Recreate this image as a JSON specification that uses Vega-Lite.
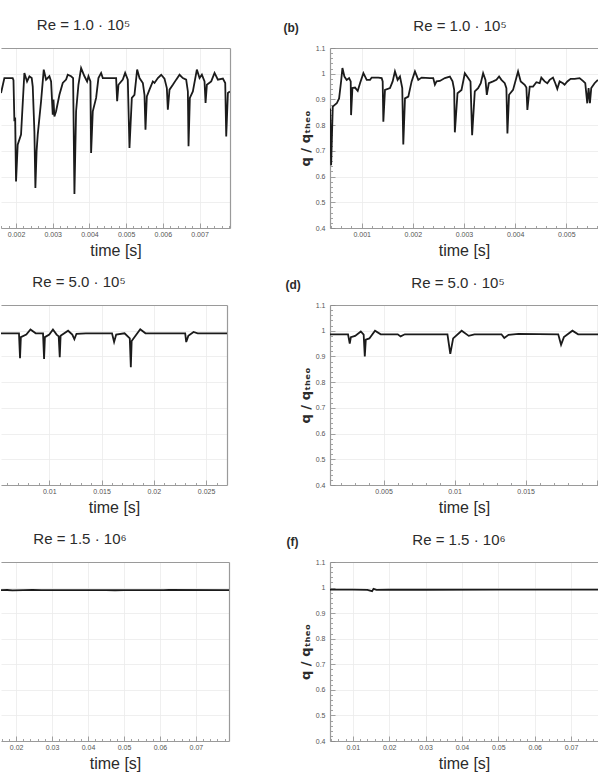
{
  "$schema": "https://vega.github.io/schema/vega-lite/v6.json",
  "padding": {"left": 0, "right": 0, "top": 18, "bottom": 0},
  "bounds": "flush",
  "columns": 2,
  "spacing": {"row": 77, "column": 100},
  "datasets": {
    "a": [
      {"t":0.001591,"q":0.925},{"t":0.001682,"q":0.983},{"t":0.001773,"q":0.983},{"t":0.001909,"q":0.983},{"t":0.00193,"q":0.975},{"t":0.001955,"q":0.815},{"t":0.001975,"q":0.83},{"t":0.002,"q":0.581},{"t":0.002045,"q":0.724},{"t":0.002136,"q":0.763},{"t":0.002227,"q":1.003},{"t":0.0023,"q":0.97},{"t":0.002364,"q":0.99},{"t":0.002427,"q":0.983},{"t":0.002455,"q":0.95},{"t":0.0025,"q":0.776},{"t":0.002527,"q":0.556},{"t":0.00256,"q":0.7},{"t":0.002591,"q":0.763},{"t":0.002682,"q":0.893},{"t":0.002755,"q":1.016},{"t":0.002818,"q":0.977},{"t":0.002909,"q":0.99},{"t":0.002955,"q":0.97},{"t":0.003,"q":0.841},{"t":0.00302,"q":0.9},{"t":0.003045,"q":0.834},{"t":0.003091,"q":0.854},{"t":0.003182,"q":0.918},{"t":0.003273,"q":0.964},{"t":0.003364,"q":0.977},{"t":0.003409,"q":0.996},{"t":0.0035,"q":0.99},{"t":0.003555,"q":0.983},{"t":0.003591,"q":0.532},{"t":0.003636,"q":0.854},{"t":0.0037,"q":0.957},{"t":0.003773,"q":1.022},{"t":0.003864,"q":0.99},{"t":0.003936,"q":0.97},{"t":0.003973,"q":0.99},{"t":0.004027,"q":0.97},{"t":0.004045,"q":0.692},{"t":0.004091,"q":0.854},{"t":0.004182,"q":0.906},{"t":0.004245,"q":0.983},{"t":0.004318,"q":1.003},{"t":0.004364,"q":0.983},{"t":0.004727,"q":0.983},{"t":0.004755,"q":0.893},{"t":0.004791,"q":0.957},{"t":0.004909,"q":0.977},{"t":0.004973,"q":1.003},{"t":0.005045,"q":0.977},{"t":0.005091,"q":0.711},{"t":0.005155,"q":0.906},{"t":0.005227,"q":0.918},{"t":0.0053,"q":1.016},{"t":0.005364,"q":0.983},{"t":0.005455,"q":0.964},{"t":0.0055,"q":0.918},{"t":0.005527,"q":0.782},{"t":0.005564,"q":0.912},{"t":0.005636,"q":0.938},{"t":0.005727,"q":0.97},{"t":0.005773,"q":0.964},{"t":0.005864,"q":0.983},{"t":0.005955,"q":0.996},{"t":0.006045,"q":0.981},{"t":0.006109,"q":0.944},{"t":0.006136,"q":0.86},{"t":0.006182,"q":0.938},{"t":0.006273,"q":0.957},{"t":0.006364,"q":0.977},{"t":0.006455,"q":0.996},{"t":0.006545,"q":0.983},{"t":0.006636,"q":0.977},{"t":0.006682,"q":0.931},{"t":0.0067,"q":0.718},{"t":0.006736,"q":0.906},{"t":0.006818,"q":0.931},{"t":0.006927,"q":1.016},{"t":0.007,"q":0.983},{"t":0.007064,"q":0.996},{"t":0.007136,"q":0.97},{"t":0.007164,"q":0.886},{"t":0.0072,"q":0.957},{"t":0.007318,"q":0.97},{"t":0.007409,"q":1.003},{"t":0.0075,"q":0.977},{"t":0.007636,"q":0.981},{"t":0.0077,"q":0.964},{"t":0.007727,"q":0.756},{"t":0.007773,"q":0.925},{"t":0.007827,"q":0.931}
    ],
    "b": [
      {"t":0.000382,"q":0.865},{"t":0.000402,"q":0.644},{"t":0.000434,"q":0.872},{"t":0.000512,"q":0.885},{"t":0.000558,"q":0.904},{"t":0.000597,"q":0.97},{"t":0.000623,"q":1.022},{"t":0.000662,"q":0.989},{"t":0.000707,"q":0.976},{"t":0.000753,"q":0.983},{"t":0.000785,"q":0.97},{"t":0.000792,"q":0.839},{"t":0.000818,"q":0.944},{"t":0.00087,"q":0.946},{"t":0.000922,"q":0.933},{"t":0.000967,"q":0.963},{"t":0.001033,"q":1.002},{"t":0.001098,"q":0.976},{"t":0.001163,"q":0.976},{"t":0.001195,"q":0.985},{"t":0.001325,"q":0.985},{"t":0.00139,"q":0.983},{"t":0.00141,"q":0.97},{"t":0.001423,"q":0.813},{"t":0.001455,"q":0.937},{"t":0.001553,"q":0.944},{"t":0.001605,"q":0.97},{"t":0.00165,"q":1.009},{"t":0.001702,"q":0.976},{"t":0.001748,"q":0.989},{"t":0.001793,"q":0.944},{"t":0.001813,"q":0.725},{"t":0.001846,"q":0.904},{"t":0.001911,"q":0.911},{"t":0.001976,"q":0.97},{"t":0.002041,"q":1.009},{"t":0.002106,"q":0.976},{"t":0.002171,"q":0.985},{"t":0.002333,"q":0.983},{"t":0.002398,"q":0.983},{"t":0.002431,"q":0.957},{"t":0.002463,"q":0.97},{"t":0.002528,"q":0.972},{"t":0.002626,"q":0.983},{"t":0.002724,"q":0.989},{"t":0.002776,"q":0.97},{"t":0.002808,"q":0.937},{"t":0.002821,"q":0.772},{"t":0.002873,"q":0.924},{"t":0.002951,"q":0.937},{"t":0.003016,"q":1.002},{"t":0.003081,"q":0.983},{"t":0.003127,"q":0.97},{"t":0.003159,"q":0.761},{"t":0.003211,"q":0.931},{"t":0.003276,"q":0.944},{"t":0.003328,"q":0.963},{"t":0.003374,"q":1.002},{"t":0.00342,"q":0.976},{"t":0.003446,"q":0.918},{"t":0.003485,"q":0.963},{"t":0.003569,"q":0.97},{"t":0.003634,"q":0.976},{"t":0.003686,"q":0.989},{"t":0.003732,"q":0.976},{"t":0.003797,"q":0.963},{"t":0.003829,"q":0.944},{"t":0.003849,"q":0.768},{"t":0.003881,"q":0.918},{"t":0.003959,"q":0.937},{"t":0.004057,"q":1.009},{"t":0.004109,"q":0.97},{"t":0.004187,"q":0.957},{"t":0.00422,"q":0.946},{"t":0.004239,"q":0.859},{"t":0.004285,"q":0.95},{"t":0.00435,"q":0.95},{"t":0.004415,"q":0.967},{"t":0.00448,"q":0.963},{"t":0.004512,"q":0.985},{"t":0.004577,"q":0.97},{"t":0.004629,"q":0.963},{"t":0.004675,"q":0.976},{"t":0.00474,"q":0.985},{"t":0.004785,"q":0.963},{"t":0.004824,"q":0.941},{"t":0.00487,"q":0.97},{"t":0.004935,"q":0.963},{"t":0.004967,"q":0.957},{"t":0.00502,"q":0.97},{"t":0.005085,"q":0.98},{"t":0.005163,"q":0.98},{"t":0.00526,"q":0.983},{"t":0.005325,"q":0.972},{"t":0.005371,"q":0.963},{"t":0.00541,"q":0.885},{"t":0.005436,"q":0.944},{"t":0.005462,"q":0.885},{"t":0.005488,"q":0.944},{"t":0.005553,"q":0.963},{"t":0.005618,"q":0.976}
    ],
    "c": [
      {"t":0.00538,"q":0.99},{"t":0.0071,"q":0.99},{"t":0.0072,"q":0.893},{"t":0.00728,"q":0.975},{"t":0.0078,"q":0.985},{"t":0.0082,"q":1.005},{"t":0.0087,"q":0.99},{"t":0.0094,"q":0.99},{"t":0.0095,"q":0.89},{"t":0.00958,"q":0.975},{"t":0.01,"q":0.985},{"t":0.01035,"q":1.005},{"t":0.0107,"q":0.985},{"t":0.0109,"q":0.978},{"t":0.011,"q":0.897},{"t":0.01108,"q":0.98},{"t":0.0118,"q":1.0},{"t":0.0122,"q":0.985},{"t":0.0124,"q":0.967},{"t":0.0126,"q":0.988},{"t":0.0135,"q":0.99},{"t":0.016,"q":0.99},{"t":0.0162,"q":0.956},{"t":0.0164,"q":0.985},{"t":0.0172,"q":0.99},{"t":0.0177,"q":0.97},{"t":0.0178,"q":0.858},{"t":0.01788,"q":0.96},{"t":0.0187,"q":1.006},{"t":0.0192,"q":0.99},{"t":0.023,"q":0.99},{"t":0.0231,"q":0.956},{"t":0.0233,"q":0.98},{"t":0.0238,"q":0.995},{"t":0.0242,"q":0.99},{"t":0.027,"q":0.99}
    ],
    "d": [
      {"t":0.00123,"q":0.986},{"t":0.0025,"q":0.986},{"t":0.00262,"q":0.95},{"t":0.0027,"q":0.975},{"t":0.003,"q":0.98},{"t":0.0034,"q":0.997},{"t":0.0036,"q":0.985},{"t":0.00368,"q":0.9},{"t":0.00375,"q":0.965},{"t":0.004,"q":0.97},{"t":0.0044,"q":1.0},{"t":0.0048,"q":0.986},{"t":0.006,"q":0.986},{"t":0.0062,"q":0.978},{"t":0.0065,"q":0.986},{"t":0.0095,"q":0.986},{"t":0.0097,"q":0.91},{"t":0.0099,"q":0.97},{"t":0.0105,"q":1.0},{"t":0.011,"q":0.98},{"t":0.0114,"q":0.986},{"t":0.0133,"q":0.986},{"t":0.0135,"q":0.972},{"t":0.0138,"q":0.984},{"t":0.0145,"q":0.988},{"t":0.0173,"q":0.986},{"t":0.0175,"q":0.945},{"t":0.0177,"q":0.975},{"t":0.0183,"q":1.0},{"t":0.0187,"q":0.986},{"t":0.0201,"q":0.986}
    ],
    "e": [
      {"t":0.0158,"q":0.99},{"t":0.0175,"q":0.9905},{"t":0.019,"q":0.989},{"t":0.022,"q":0.99},{"t":0.0245,"q":0.991},{"t":0.027,"q":0.99},{"t":0.045,"q":0.99},{"t":0.0475,"q":0.9895},{"t":0.05,"q":0.99},{"t":0.061,"q":0.99},{"t":0.0625,"q":0.9905},{"t":0.0792,"q":0.99}
    ],
    "f": [
      {"t":0.00373,"q":0.992},{"t":0.01,"q":0.992},{"t":0.014,"q":0.991},{"t":0.0153,"q":0.986},{"t":0.0157,"q":0.995},{"t":0.0165,"q":0.991},{"t":0.02,"q":0.992},{"t":0.03,"q":0.9915},{"t":0.05,"q":0.992},{"t":0.0774,"q":0.992}
    ]
  },
  "concat": [
    {
      "width": 229, "height": 180,
      "title": {"text": "Re = 1.0 · 10⁵", "dx": -32, "offset": 15},
      "data": {"name": "a"},
      "layer": [
        {"mark": {"type": "line", "clip": true},
         "encoding": {
           "x": {"field": "t", "type": "quantitative", "scale": {"domain": [0.00159, 0.00783], "nice": false, "zero": false},
             "axis": {"orient": "bottom", "values": [0.0016,0.0018,0.002,0.0022,0.0024,0.0026,0.0028,0.003,0.0032,0.0034,0.0036,0.0038,0.004,0.0042,0.0044,0.0046,0.0048,0.005,0.0052,0.0054,0.0056,0.0058,0.006,0.0062,0.0064,0.0066,0.0068,0.007,0.0072,0.0074,0.0076,0.0078],
               "format": ".3f",
               "labelExpr": "abs(datum.value*1000-round(datum.value*1000))<1e-6 ? datum.label : ''",
               "tickSize": {"condition": {"test": "abs(datum.value*1000-round(datum.value*1000))<1e-6", "value": -5}, "value": -2.5},
               "gridOpacity": {"condition": {"test": "abs(datum.value*1000-round(datum.value*1000))<1e-6", "value": 1}, "value": 0},
               "grid": true, "title": "time [s]"}},
           "y": {"field": "q", "type": "quantitative", "scale": {"domain": [0.4, 1.1], "nice": false, "zero": false},
             "axis": {"orient": "right", "values": [0.4,0.5,0.6,0.7,0.8,0.9,1,1.1], "labels": false, "ticks": false, "grid": true, "title": null}}
         }},
        {"mark": {"type": "line", "strokeOpacity": 0},
         "encoding": {
           "x": {"field": "t", "type": "quantitative", "scale": {"domain": [0.00159, 0.00783], "nice": false, "zero": false},
             "axis": {"orient": "top", "labels": false, "ticks": false, "grid": false, "title": null}},
           "y": {"field": "q", "type": "quantitative", "scale": {"domain": [0.4, 1.1], "nice": false, "zero": false}, "axis": null}
         }}
      ],
      "resolve": {"axis": {"x": "independent", "y": "independent"}}
    },
    {
      "width": 268, "height": 180,
      "title": {"text": "Re = 1.0 · 10⁵", "dx": -4, "dy": 28, "offset": 15},
      "data": {"name": "b"},
      "layer": [
        {"mark": {"type": "line", "clip": true},
         "encoding": {
           "x": {"field": "t", "type": "quantitative", "scale": {"domain": [0.00038, 0.00562], "nice": false, "zero": false},
             "axis": {"orient": "bottom", "values": [0.0004,0.0006,0.0008,0.001,0.0012,0.0014,0.0016,0.0018,0.002,0.0022,0.0024,0.0026,0.0028,0.003,0.0032,0.0034,0.0036,0.0038,0.004,0.0042,0.0044,0.0046,0.0048,0.005,0.0052,0.0054,0.0056],
               "format": ".3f",
               "labelExpr": "abs(datum.value*1000-round(datum.value*1000))<1e-6 ? datum.label : ''",
               "tickSize": {"condition": {"test": "abs(datum.value*1000-round(datum.value*1000))<1e-6", "value": -5}, "value": -2.5},
               "gridOpacity": {"condition": {"test": "abs(datum.value*1000-round(datum.value*1000))<1e-6", "value": 1}, "value": 0},
               "grid": true, "title": "time [s]"}},
           "y": {"field": "q", "type": "quantitative", "scale": {"domain": [0.4, 1.1], "nice": false, "zero": false},
             "axis": {"orient": "left", "values": [0.4,0.42,0.44,0.46,0.48,0.5,0.52,0.54,0.56,0.58,0.6,0.62,0.64,0.66,0.68,0.7,0.72,0.74,0.76,0.78,0.8,0.82,0.84,0.86,0.88,0.9,0.92,0.94,0.96,0.98,1,1.02,1.04,1.06,1.08,1.1],
               "format": "~g",
               "labelExpr": "abs(datum.value*10-round(datum.value*10))<1e-6 ? datum.label : ''",
               "tickSize": {"condition": {"test": "abs(datum.value*10-round(datum.value*10))<1e-6", "value": -5}, "value": -2.5},
               "gridOpacity": {"condition": {"test": "abs(datum.value*10-round(datum.value*10))<1e-6", "value": 1}, "value": 0},
               "grid": true, "labelPadding": 10,
               "title": "q / qₜₕₑₒ", "titleFont": "DejaVu Sans", "titleFontSize": 13, "titleFontWeight": "bold", "titlePadding": 3}}
         }},
        {"mark": {"type": "line", "strokeOpacity": 0},
         "encoding": {
           "x": {"field": "t", "type": "quantitative", "scale": {"domain": [0.00038, 0.00562], "nice": false, "zero": false},
             "axis": {"orient": "top", "labels": false, "ticks": false, "grid": false, "title": "(b)", "titleFontWeight": "bold", "titleFontSize": 12, "titleAnchor": "start", "titleAlign": "left", "titleBaseline": "alphabetic", "titleX": -47, "titleY": -17, "titleAngle": 0}},
           "y": {"field": "q", "type": "quantitative", "scale": {"domain": [0.4, 1.1], "nice": false, "zero": false}, "axis": null}
         }}
      ],
      "resolve": {"axis": {"x": "independent", "y": "independent"}}
    },
    {
      "width": 226, "height": 180,
      "title": {"text": "Re = 5.0 · 10⁵", "dx": -35, "offset": 15},
      "data": {"name": "c"},
      "layer": [
        {"mark": {"type": "line", "clip": true},
         "encoding": {
           "x": {"field": "t", "type": "quantitative", "scale": {"domain": [0.00538, 0.027], "nice": false, "zero": false},
             "axis": {"orient": "bottom", "values": [0.006,0.007,0.008,0.009,0.01,0.011,0.012,0.013,0.014,0.015,0.016,0.017,0.018,0.019,0.02,0.021,0.022,0.023,0.024,0.025,0.026],
               "format": ".3~f",
               "labelExpr": "abs(datum.value*200-round(datum.value*200))<1e-6 ? datum.label : ''",
               "tickSize": {"condition": {"test": "abs(datum.value*200-round(datum.value*200))<1e-6", "value": -5}, "value": -2.5},
               "gridOpacity": {"condition": {"test": "abs(datum.value*200-round(datum.value*200))<1e-6", "value": 1}, "value": 0},
               "grid": true, "title": "time [s]"}},
           "y": {"field": "q", "type": "quantitative", "scale": {"domain": [0.4, 1.1], "nice": false, "zero": false},
             "axis": {"orient": "right", "values": [0.4,0.5,0.6,0.7,0.8,0.9,1,1.1], "labels": false, "ticks": false, "grid": true, "title": null}}
         }},
        {"mark": {"type": "line", "strokeOpacity": 0},
         "encoding": {
           "x": {"field": "t", "type": "quantitative", "scale": {"domain": [0.00538, 0.027], "nice": false, "zero": false},
             "axis": {"orient": "top", "labels": false, "ticks": false, "grid": false, "title": null}},
           "y": {"field": "q", "type": "quantitative", "scale": {"domain": [0.4, 1.1], "nice": false, "zero": false}, "axis": null}
         }}
      ],
      "resolve": {"axis": {"x": "independent", "y": "independent"}}
    },
    {
      "width": 268, "height": 180,
      "title": {"text": "Re = 5.0 · 10⁵", "dx": -6, "dy": 28, "offset": 15},
      "data": {"name": "d"},
      "layer": [
        {"mark": {"type": "line", "clip": true},
         "encoding": {
           "x": {"field": "t", "type": "quantitative", "scale": {"domain": [0.00123, 0.0201], "nice": false, "zero": false},
             "axis": {"orient": "bottom", "values": [0.002,0.003,0.004,0.005,0.006,0.007,0.008,0.009,0.01,0.011,0.012,0.013,0.014,0.015,0.016,0.017,0.018,0.019,0.02],
               "format": ".3~f",
               "labelExpr": "abs(datum.value*200-round(datum.value*200))<1e-6 && datum.value < 0.0195 ? datum.label : ''",
               "tickSize": {"condition": {"test": "abs(datum.value*200-round(datum.value*200))<1e-6", "value": -5}, "value": -2.5},
               "gridOpacity": {"condition": {"test": "abs(datum.value*200-round(datum.value*200))<1e-6", "value": 1}, "value": 0},
               "grid": true, "title": "time [s]"}},
           "y": {"field": "q", "type": "quantitative", "scale": {"domain": [0.4, 1.1], "nice": false, "zero": false},
             "axis": {"orient": "left", "values": [0.4,0.42,0.44,0.46,0.48,0.5,0.52,0.54,0.56,0.58,0.6,0.62,0.64,0.66,0.68,0.7,0.72,0.74,0.76,0.78,0.8,0.82,0.84,0.86,0.88,0.9,0.92,0.94,0.96,0.98,1,1.02,1.04,1.06,1.08,1.1],
               "format": "~g",
               "labelExpr": "abs(datum.value*10-round(datum.value*10))<1e-6 ? datum.label : ''",
               "tickSize": {"condition": {"test": "abs(datum.value*10-round(datum.value*10))<1e-6", "value": -5}, "value": -2.5},
               "gridOpacity": {"condition": {"test": "abs(datum.value*10-round(datum.value*10))<1e-6", "value": 1}, "value": 0},
               "grid": true, "labelPadding": 10,
               "title": "q / qₜₕₑₒ", "titleFont": "DejaVu Sans", "titleFontSize": 13, "titleFontWeight": "bold", "titlePadding": 3}}
         }},
        {"mark": {"type": "line", "strokeOpacity": 0},
         "encoding": {
           "x": {"field": "t", "type": "quantitative", "scale": {"domain": [0.00123, 0.0201], "nice": false, "zero": false},
             "axis": {"orient": "top", "labels": false, "ticks": false, "grid": false, "title": "(d)", "titleFontWeight": "bold", "titleFontSize": 12, "titleAnchor": "start", "titleAlign": "left", "titleBaseline": "alphabetic", "titleX": -45, "titleY": -17, "titleAngle": 0}},
           "y": {"field": "q", "type": "quantitative", "scale": {"domain": [0.4, 1.1], "nice": false, "zero": false}, "axis": null}
         }}
      ],
      "resolve": {"axis": {"x": "independent", "y": "independent"}}
    },
    {
      "width": 228, "height": 179,
      "title": {"text": "Re = 1.5 · 10⁶", "dx": -35, "offset": 15},
      "data": {"name": "e"},
      "layer": [
        {"mark": {"type": "line", "clip": true},
         "encoding": {
           "x": {"field": "t", "type": "quantitative", "scale": {"domain": [0.0158, 0.0792], "nice": false, "zero": false},
             "axis": {"orient": "bottom", "values": [0.016,0.018,0.02,0.022,0.024,0.026,0.028,0.03,0.032,0.034,0.036,0.038,0.04,0.042,0.044,0.046,0.048,0.05,0.052,0.054,0.056,0.058,0.06,0.062,0.064,0.066,0.068,0.07,0.072,0.074,0.076,0.078],
               "format": ".2f",
               "labelExpr": "abs(datum.value*100-round(datum.value*100))<1e-6 ? datum.label : ''",
               "tickSize": {"condition": {"test": "abs(datum.value*100-round(datum.value*100))<1e-6", "value": -5}, "value": -2.5},
               "gridOpacity": {"condition": {"test": "abs(datum.value*100-round(datum.value*100))<1e-6", "value": 1}, "value": 0},
               "grid": true, "title": "time [s]"}},
           "y": {"field": "q", "type": "quantitative", "scale": {"domain": [0.4, 1.1], "nice": false, "zero": false},
             "axis": {"orient": "right", "values": [0.4,0.5,0.6,0.7,0.8,0.9,1,1.1], "labels": false, "ticks": false, "grid": true, "title": null}}
         }},
        {"mark": {"type": "line", "strokeOpacity": 0},
         "encoding": {
           "x": {"field": "t", "type": "quantitative", "scale": {"domain": [0.0158, 0.0792], "nice": false, "zero": false},
             "axis": {"orient": "top", "labels": false, "ticks": false, "grid": false, "title": null}},
           "y": {"field": "q", "type": "quantitative", "scale": {"domain": [0.4, 1.1], "nice": false, "zero": false}, "axis": null}
         }}
      ],
      "resolve": {"axis": {"x": "independent", "y": "independent"}}
    },
    {
      "width": 268, "height": 179,
      "title": {"text": "Re = 1.5 · 10⁶", "dx": -5, "dy": 28, "offset": 15},
      "data": {"name": "f"},
      "layer": [
        {"mark": {"type": "line", "clip": true},
         "encoding": {
           "x": {"field": "t", "type": "quantitative", "scale": {"domain": [0.00373, 0.0774], "nice": false, "zero": false},
             "axis": {"orient": "bottom", "values": [0.004,0.006,0.008,0.01,0.012,0.014,0.016,0.018,0.02,0.022,0.024,0.026,0.028,0.03,0.032,0.034,0.036,0.038,0.04,0.042,0.044,0.046,0.048,0.05,0.052,0.054,0.056,0.058,0.06,0.062,0.064,0.066,0.068,0.07,0.072,0.074,0.076],
               "format": ".2f",
               "labelExpr": "abs(datum.value*100-round(datum.value*100))<1e-6 ? datum.label : ''",
               "tickSize": {"condition": {"test": "abs(datum.value*100-round(datum.value*100))<1e-6", "value": -5}, "value": -2.5},
               "gridOpacity": {"condition": {"test": "abs(datum.value*100-round(datum.value*100))<1e-6", "value": 1}, "value": 0},
               "grid": true, "title": "time [s]"}},
           "y": {"field": "q", "type": "quantitative", "scale": {"domain": [0.4, 1.1], "nice": false, "zero": false},
             "axis": {"orient": "left", "values": [0.4,0.42,0.44,0.46,0.48,0.5,0.52,0.54,0.56,0.58,0.6,0.62,0.64,0.66,0.68,0.7,0.72,0.74,0.76,0.78,0.8,0.82,0.84,0.86,0.88,0.9,0.92,0.94,0.96,0.98,1,1.02,1.04,1.06,1.08,1.1],
               "format": "~g",
               "labelExpr": "abs(datum.value*10-round(datum.value*10))<1e-6 ? datum.label : ''",
               "tickSize": {"condition": {"test": "abs(datum.value*10-round(datum.value*10))<1e-6", "value": -5}, "value": -2.5},
               "gridOpacity": {"condition": {"test": "abs(datum.value*10-round(datum.value*10))<1e-6", "value": 1}, "value": 0},
               "grid": true, "labelPadding": 10,
               "title": "q / qₜₕₑₒ", "titleFont": "DejaVu Sans", "titleFontSize": 13, "titleFontWeight": "bold", "titlePadding": 3}}
         }},
        {"mark": {"type": "line", "strokeOpacity": 0},
         "encoding": {
           "x": {"field": "t", "type": "quantitative", "scale": {"domain": [0.00373, 0.0774], "nice": false, "zero": false},
             "axis": {"orient": "top", "labels": false, "ticks": false, "grid": false, "title": "(f)", "titleFontWeight": "bold", "titleFontSize": 12, "titleAnchor": "start", "titleAlign": "left", "titleBaseline": "alphabetic", "titleX": -44, "titleY": -17, "titleAngle": 0}},
           "y": {"field": "q", "type": "quantitative", "scale": {"domain": [0.4, 1.1], "nice": false, "zero": false}, "axis": null}
         }}
      ],
      "resolve": {"axis": {"x": "independent", "y": "independent"}}
    }
  ],
  "config": {
    "view": {"stroke": null},
    "font": "Liberation Sans",
    "line": {"color": "#1b1b1b", "strokeWidth": 1.8},
    "axis": {
      "domainColor": "#9a9a9a", "domainWidth": 1.2,
      "tickColor": "#8a8a8a", "tickWidth": 0.8,
      "labelColor": "#555555", "labelFontSize": 7, "labelFont": "Liberation Sans",
      "labelFlush": false, "labelOverlap": false, "labelPadding": 7,
      "gridColor": "#ebebeb", "gridWidth": 0.8,
      "titleFont": "Liberation Sans", "titleFontSize": 16, "titleFontWeight": "normal", "titleColor": "#2b2b2b", "titlePadding": 3
    },
    "title": {"font": "Liberation Sans", "fontSize": 15, "fontWeight": "normal", "color": "#2b2b2b", "anchor": "middle", "frame": "group", "baseline": "alphabetic"}
  }
}
